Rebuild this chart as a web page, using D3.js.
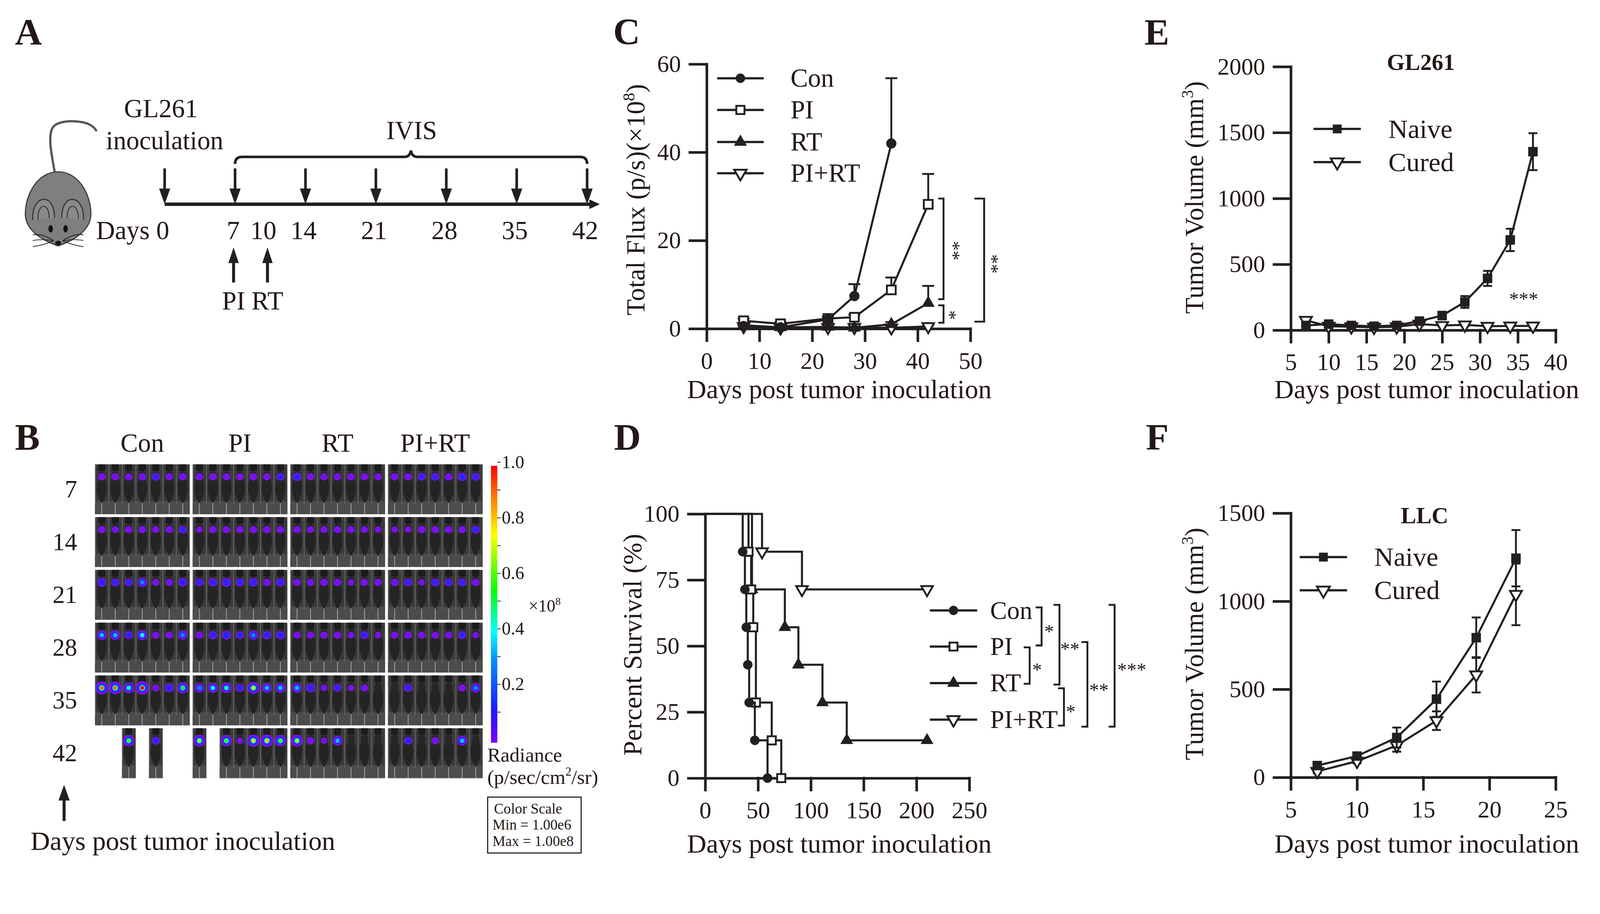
<!DOCTYPE html>
<html>
<head>
<meta charset="utf-8">
<script src="https://cdnjs.cloudflare.com/ajax/libs/d3/7.8.5/d3.min.js"></script>
<style>
html, body { margin: 0; padding: 0; background: #fff; overflow: hidden; }
svg { display: block; width: 100vw; height: 100vh; }
text { font-family: "Liberation Serif", "Times New Roman", serif; fill: #231815; }
</style>
</head>
<body>
<svg id="fig" viewBox="0 0 4295 2339" preserveAspectRatio="xMinYMin meet"></svg>
<script>
// ---------- data ----------
// A: timeline
var timelineLabels = [0, 7, 10, 14, 21, 28, 35, 42];
var ivisDays = [0, 7, 14, 21, 28, 35, 42];
var treatDays = [7, 10];
var treatNames = ["PI", "RT"];

// B: IVIS images (relative signal per mouse, null = no mouse)
var groups = ["Con", "PI", "RT", "PI+RT"];
var imageDays = [7, 14, 21, 28, 35, 42];
var conSignal = [
  [0.12, 0.10, 0.10, 0.12, 0.15, 0.10, 0.12],
  [0.10, 0.08, 0.10, 0.10, 0.08, 0.10, 0.14],
  [0.25, 0.15, 0.15, 0.30, 0.08, 0.10, 0.20],
  [0.35, 0.35, 0.15, 0.40, 0.10, 0.10, 0.30],
  [0.90, 0.90, 0.45, 1.00, 0.10, 0.25, 0.55],
  [null, null, 0.60, null, 0.15, null, null]
];
var piSignal = [
  [0.12, 0.10, 0.10, 0.10, 0.12, 0.10, 0.15],
  [0.05, 0.10, 0.10, 0.10, 0.10, 0.10, 0.10],
  [0.15, 0.20, 0.25, 0.20, 0.20, 0.12, 0.20],
  [0.12, 0.20, 0.25, 0.15, 0.30, 0.20, 0.20],
  [0.30, 0.40, 0.45, 0.15, 0.70, 0.35, 0.35],
  [0.70, null, 0.60, 0.05, 0.80, 0.80, 0.60]
];
var rtSignal = [
  [0.20, 0.10, 0.10, 0.10, 0.12, 0.10, 0.10],
  [0.10, 0.08, 0.08, 0.10, 0.10, 0.08, 0.05],
  [0.10, 0.10, 0.12, 0.12, 0.05, 0.10, 0.10],
  [0.10, 0.10, 0.10, 0.12, 0.05, 0.15, 0.05],
  [0.35, 0.25, 0.05, 0.15, 0.05, 0.10, 0.00],
  [0.70, 0.12, 0.05, 0.35, 0.00, 0.00, 0.00]
];
var pirtSignal = [
  [0.12, 0.12, 0.15, 0.15, 0.12, 0.20, 0.15],
  [0.05, 0.05, 0.12, 0.10, 0.10, 0.10, 0.15],
  [0.12, 0.15, 0.05, 0.15, 0.15, 0.15, 0.12],
  [0.10, 0.12, 0.10, 0.10, 0.10, 0.15, 0.05],
  [0.00, 0.15, 0.00, 0.00, 0.00, 0.10, 0.30],
  [0.00, 0.15, 0.00, 0.10, 0.00, 0.35, 0.00]
];
var colorbarLabels = [0.2, 0.4, 0.6, 0.8, 1.0];
var colorbarMinor = [0.1, 0.2, 0.3, 0.4, 0.5, 0.6, 0.7, 0.8, 0.9, 1.0];
var colorStops = [0, 0.12, 0.3, 0.4, 0.55, 0.75, 0.88, 1];
var colorValues = ["#7a00ff", "#1a1aff", "#0090ff", "#00ffff", "#00ff00", "#ffff00", "#ff8000", "#ff0000"];

// C: total flux (x10^8 p/s)
var fluxDays = [7, 14, 23, 28, 35, 42];
var fluxCon = [0.6, 0.3, 2.1, 7.4, 42.0, null];
var fluxConErr = [0.4, 0.3, 0.5, 2.7, 14.8, null];
var fluxPI = [1.8, 1.1, 2.3, 2.6, 8.8, 28.2];
var fluxPIErr = [0.5, 0.4, 0.5, 0.6, 2.8, 6.9];
var fluxRT = [0.8, 0.3, 0.4, 0.2, 1.0, 5.8];
var fluxRTErr = [0.3, 0.2, 0.2, 0.2, 0.5, 3.9];
var fluxPIRT = [0.5, 0.2, 0.3, 0.3, 0.2, 0.5];
var fluxPIRTErr = [0.2, 0.1, 0.1, 0.1, 0.1, 0.3];
var fluxXTicks = [0, 10, 20, 30, 40, 50];
var fluxYTicks = [0, 20, 40, 60];

// D: survival (Kaplan-Meier steps)
var survConT = [0, 35.5, 37.6, 38.9, 40.3, 41.6, 47, 59];
var survConS = [100, 85.7, 71.4, 57.1, 42.9, 28.6, 14.3, 0];
var survPIT = [0, 41, 43.5, 45.5, 48, 63, 72];
var survPIS = [100, 85.7, 71.4, 57.1, 28.6, 14.3, 0];
var survRTT = [0, 44.3, 75.4, 88.2, 111, 134, 210];
var survRTS = [100, 71.4, 57.1, 42.9, 28.6, 14.3, 14.3];
var survPIRTT = [0, 53.8, 91.6, 210];
var survPIRTS = [100, 85.7, 71.4, 71.4];
var survXTicks = [0, 50, 100, 150, 200, 250];
var survYTicks = [0, 25, 50, 75, 100];

// E: GL261 rechallenge tumour volume (mm^3)
var glDays = [7, 10, 13, 16, 19, 22, 25, 28, 31, 34, 37];
var glNaive = [36, 46, 36, 30, 36, 69, 111, 214, 393, 685, 1355];
var glNaiveErr = [10, 10, 8, 8, 8, 12, 20, 45, 57, 85, 140];
var glCured = [75, 30, 26, 22, 26, 46, 36, 40, 30, 32, 32];
var glCuredErr = [15, 8, 6, 6, 6, 10, 8, 8, 6, 6, 6];
var glXTicks = [5, 10, 15, 20, 25, 30, 35, 40];
var glYTicks = [0, 500, 1000, 1500, 2000];

// F: LLC challenge tumour volume (mm^3)
var llcDays = [7, 10, 13, 16, 19, 22];
var llcNaive = [67, 121, 226, 444, 793, 1244];
var llcNaiveErr = [12, 15, 57, 100, 115, 160];
var llcCured = [34, 92, 181, 322, 582, 1039];
var llcCuredErr = [10, 12, 35, 53, 100, 175];
var llcXTicks = [5, 10, 15, 20, 25];
var llcYTicks = [0, 500, 1000, 1500];

// ---------- helpers ----------
var INK = "#231f20";
var svg = d3.select("#fig");
svg.append("rect").attr("width", 4295).attr("height", 2339).attr("fill", "#fff");

function txt(g, x, y, s, fs, anchor, weight) {
  return g.append("text").attr("x", x).attr("y", y)
    .attr("font-size", fs).attr("text-anchor", anchor || "start")
    .attr("font-weight", weight || "normal").text(s);
}

function supLabel(g, x, y, main, sup, tail, fs, rotate) {
  var t = g.append("text").attr("font-size", fs).attr("text-anchor", "middle")
    .attr("transform", "translate(" + x + "," + y + ")" + (rotate ? " rotate(-90)" : ""))
    .attr("dy", "0.35em");
  t.append("tspan").text(main);
  t.append("tspan").attr("font-size", fs * 0.62).attr("dy", -fs * 0.38).text(sup);
  t.append("tspan").attr("dy", fs * 0.38).text(tail);
  return t;
}

function symbolPath(type, size) {
  var s = type === "circle" ? d3.symbolCircle : (type.indexOf("square") === 0 ? d3.symbolSquare : d3.symbolTriangle);
  return d3.symbol().type(s).size(size)();
}

function marker(g, type, x, y, size) {
  var open = type === "square" || type === "triDown";
  g.append("path").attr("d", symbolPath(type, size))
    .attr("transform", "translate(" + x + "," + y + ")" + (type === "triDown" ? " rotate(180)" : ""))
    .attr("fill", open ? "#fff" : INK).attr("stroke", INK).attr("stroke-width", open ? 5 : 1);
}

function axes(g, xs, ys, xTicks, yTicks) {
  var ya = g.append("g").attr("transform", "translate(" + xs.range()[0] + ",0)")
    .call(d3.axisLeft(ys).tickValues(yTicks).tickFormat(function (d) { return d; })
      .tickSize(45).tickSizeOuter(0).tickPadding(24));
  var xa = g.append("g").attr("transform", "translate(0," + ys.range()[0] + ")")
    .call(d3.axisBottom(xs).tickValues(xTicks).tickFormat(function (d) { return d; })
      .tickSize(32).tickSizeOuter(0).tickPadding(30));
  [ya, xa].forEach(function (a) {
    a.attr("font-size", 64).style("color", INK);
    a.selectAll("path, line").attr("stroke-width", 7).attr("stroke-linecap", "square");
  });
}

function series(g, xs, ys, days, vals, errs, type, size, both, cap) {
  var pts = days.map(function (d, i) { return [d, vals[i], errs[i]]; })
    .filter(function (p) { return p[1] !== null; });
  g.selectAll(null).data(pts).enter().append("path")
    .attr("d", function (p) {
      var x = xs(p[0]), yt = ys(p[1] + p[2]), yb = both ? ys(Math.max(0, p[1] - p[2])) : ys(p[1]);
      var d = "M" + x + "," + yb + "V" + yt + "M" + (x - cap) + "," + yt + "H" + (x + cap);
      if (both) d += "M" + (x - cap) + "," + yb + "H" + (x + cap);
      return d;
    })
    .attr("stroke", INK).attr("stroke-width", 5).attr("fill", "none");
  g.append("path").datum(pts)
    .attr("d", d3.line().x(function (p) { return xs(p[0]); }).y(function (p) { return ys(p[1]); }))
    .attr("fill", "none").attr("stroke", INK).attr("stroke-width", 5.5);
  pts.forEach(function (p) { marker(g, type, xs(p[0]), ys(p[1]), size); });
}

function legend(g, items, x1, x2, tx, rows, fs, size) {
  items.forEach(function (it, i) {
    g.append("line").attr("x1", x1).attr("x2", x2).attr("y1", rows[i]).attr("y2", rows[i])
      .attr("stroke", INK).attr("stroke-width", 6);
    marker(g, it.type, (x1 + x2) / 2, rows[i], size);
    txt(g, tx, rows[i] + fs * 0.33, it.name, fs);
  });
}

function bracket(g, x, y1, y2, serif) {
  g.append("path").attr("d", "M" + (x - serif) + "," + y1 + "H" + x + "V" + y2 + "H" + (x - serif))
    .attr("fill", "none").attr("stroke", INK).attr("stroke-width", 5);
}

function stars(g, x, y, s, rot) {
  return g.append("text").attr("font-size", 52).attr("text-anchor", "middle")
    .attr("transform", "translate(" + x + "," + y + ")" + (rot ? " rotate(90)" : ""))
    .attr("y", 26).text(s);
}

// ---------- panel letters ----------
var letters = [["A", 40, 120], ["C", 1646, 119], ["E", 3072, 121], ["B", 40, 1207], ["D", 1648, 1207], ["F", 3076, 1207]];
letters.forEach(function (l) { txt(svg, l[1], l[2], l[0], 100, "start", "bold"); });

// ---------- A: schedule ----------
var gA = svg.append("g");
var mouse = gA.append("g");
mouse.append("path").attr("d", "M147,463 C140,420 128,372 140,345 C150,325 190,322 222,328 C240,332 252,340 258,350")
  .attr("fill", "none").attr("stroke", "#555").attr("stroke-width", 6).attr("stroke-linecap", "round");
mouse.append("path").attr("d", "M156,461 C210,461 244,520 244,575 C244,618 198,645 156,660 C114,645 68,618 68,575 C68,520 102,461 156,461 Z")
  .attr("fill", "#7f7f7f").attr("stroke", "#3a3a3a").attr("stroke-width", 3);
[[118, 1], [194, -1]].forEach(function (e) {
  mouse.append("path").attr("d", "M" + (e[0] - 30 * e[1]) + ",590 C" + (e[0] - 34 * e[1]) + ",520 " + (e[0] + 30 * e[1]) + ",515 " + (e[0] + 28 * e[1]) + ",585")
    .attr("fill", "#8a8a8a").attr("stroke", "#333").attr("stroke-width", 3);
  mouse.append("path").attr("d", "M" + (e[0] - 16 * e[1]) + ",588 C" + (e[0] - 18 * e[1]) + ",545 " + (e[0] + 14 * e[1]) + ",540 " + (e[0] + 14 * e[1]) + ",585")
    .attr("fill", "none").attr("stroke", "#333").attr("stroke-width", 2.5);
});
mouse.append("ellipse").attr("cx", 136).attr("cy", 614).attr("rx", 6).attr("ry", 10).attr("fill", "#111");
mouse.append("ellipse").attr("cx", 176).attr("cy", 614).attr("rx", 6).attr("ry", 10).attr("fill", "#111");
mouse.append("ellipse").attr("cx", 156).attr("cy", 652).attr("rx", 8).attr("ry", 6).attr("fill", "#111");
[[-1, 630], [-1, 645], [-1, 662], [1, 630], [1, 645], [1, 662]].forEach(function (w) {
  mouse.append("path").attr("d", "M" + (156 + 12 * w[0]) + ",646 Q" + (156 + 40 * w[0]) + "," + (w[1] - 4) + " " + (156 + 68 * w[0]) + "," + w[1])
    .attr("fill", "none").attr("stroke", "#222").attr("stroke-width", 2);
});

var tl = d3.scaleLinear().domain([0, 42]).range([442, 1576]);
var lineY = 548;
gA.append("line").attr("x1", tl(0)).attr("x2", 1588).attr("y1", lineY).attr("y2", lineY)
  .attr("stroke", INK).attr("stroke-width", 9);
gA.append("path").attr("d", "M1582," + (lineY - 13) + "L1610," + lineY + "L1582," + (lineY + 13) + "Z").attr("fill", INK);
ivisDays.forEach(function (d) {
  var x = tl(d);
  gA.append("line").attr("x1", x).attr("x2", x).attr("y1", 452).attr("y2", 512)
    .attr("stroke", INK).attr("stroke-width", 7);
  gA.append("path").attr("d", "M" + (x - 15) + ",506L" + x + ",548L" + (x + 15) + ",506Z").attr("fill", INK);
});
treatDays.forEach(function (d, i) {
  var x = tl(d) - (i === 0 ? 4 : -6);
  gA.append("line").attr("x1", x).attr("x2", x).attr("y1", 700).attr("y2", 758)
    .attr("stroke", INK).attr("stroke-width", 8);
  gA.append("path").attr("d", "M" + (x - 14) + ",706L" + x + ",664L" + (x + 14) + ",706Z").attr("fill", INK);
  txt(gA, x, 830, treatNames[i], 70, "middle");
});
txt(gA, 258, 642, "Days", 70);
timelineLabels.forEach(function (d) { txt(gA, tl(d) - 5, 642, d, 70, "middle"); });
gA.append("path")
  .attr("d", "M" + tl(7) + ",440 Q" + tl(7) + ",421 " + (tl(7) + 19) + ",421 L1086,421 Q1100,421 1103,404 Q1106,421 1120,421 L" + (tl(42) - 19) + ",421 Q" + tl(42) + ",421 " + tl(42) + ",440")
  .attr("fill", "none").attr("stroke", INK).attr("stroke-width", 7);
txt(gA, 1105, 373, "IVIS", 70, "middle");
txt(gA, 432, 315, "GL261", 70, "middle");
txt(gA, 442, 401, "inoculation", 70, "middle");

// ---------- B: IVIS image grid ----------
var gB = svg.append("g");
var signals = [conSignal, piSignal, rtSignal, pirtSignal];
var bCol = d3.scaleBand().domain(groups).range([255, 1295]).paddingInner(0.032);
var bRow = d3.scaleBand().domain(imageDays).range([1246, 2088]).paddingInner(0.055);
var spotColor = d3.scaleLinear().domain(colorStops).range(colorValues);

groups.forEach(function (grp, gi) {
  txt(gB, bCol(grp) + bCol.bandwidth() / 2, 1212, grp, 70, "middle");
  imageDays.forEach(function (day, di) {
    var x0 = bCol(grp), y0 = bRow(day), w = bCol.bandwidth(), h = bRow.bandwidth(), sw = w / 7;
    signals[gi][di].forEach(function (v, i) {
      if (v === null) return;
      var sx = x0 + i * sw, cx = sx + sw / 2, cy = y0 + h * 0.25;
      gB.append("rect").attr("x", sx).attr("y", y0).attr("width", sw + 0.6).attr("height", h).attr("fill", "#3b3b3b");
      gB.append("rect").attr("x", sx).attr("y", y0 + h * 0.74).attr("width", sw + 0.6).attr("height", h * 0.26).attr("fill", "#4c4c4c");
      gB.append("rect").attr("x", cx - sw * 0.26).attr("y", y0).attr("width", sw * 0.52).attr("height", h * 0.13).attr("fill", "#1c1c1c");
      gB.append("line").attr("x1", sx + 1).attr("x2", sx + 1).attr("y1", y0).attr("y2", y0 + h * 0.8)
        .attr("stroke", "#6a6a6a").attr("stroke-width", 2);
      gB.append("line").attr("x1", cx).attr("x2", cx).attr("y1", y0 + h * 0.74).attr("y2", y0 + h)
        .attr("stroke", "#a8a8a8").attr("stroke-width", 2);
      gB.append("path")
        .attr("d", "M" + (cx - sw * 0.3) + "," + (y0 + h * 0.3) +
          " C" + (cx - sw * 0.46) + "," + (y0 + h * 0.5) + " " + (cx - sw * 0.36) + "," + (y0 + h * 0.66) + " " + cx + "," + (y0 + h * 0.78) +
          " C" + (cx + sw * 0.36) + "," + (y0 + h * 0.66) + " " + (cx + sw * 0.46) + "," + (y0 + h * 0.5) + " " + (cx + sw * 0.3) + "," + (y0 + h * 0.3) + " Z")
        .attr("fill", "#242424");
      gB.append("ellipse").attr("cx", cx).attr("cy", y0 + h * 0.24).attr("rx", sw * 0.28).attr("ry", h * 0.11).attr("fill", "#262626");
      if (v > 0) {
        var r0 = 6 + 12 * Math.sqrt(v);
        gB.append("circle").attr("cx", cx).attr("cy", cy).attr("r", r0).attr("fill", "#7a10f0");
        if (v > 0.12) gB.append("circle").attr("cx", cx).attr("cy", cy).attr("r", r0 * 0.68).attr("fill", "#2424ff");
        if (v > 0.25) gB.append("circle").attr("cx", cx).attr("cy", cy).attr("r", r0 * 0.45).attr("fill", spotColor(Math.min(v, 0.45)));
        if (v > 0.45) gB.append("circle").attr("cx", cx).attr("cy", cy).attr("r", r0 * 0.3).attr("fill", spotColor(v));
      }
    });
  });
});
imageDays.forEach(function (day) {
  txt(gB, 207, bRow(day) + bRow.bandwidth() / 2 + 22, day, 66, "end");
});

// colour bar
var grad = svg.append("defs").append("linearGradient").attr("id", "cbGrad")
  .attr("x1", 0).attr("y1", 1).attr("x2", 0).attr("y2", 0);
colorStops.forEach(function (s, i) {
  grad.append("stop").attr("offset", s).attr("stop-color", colorValues[i]);
});
var cb = d3.scaleLinear().domain([0, 1]).range([1985, 1240]);
gB.append("rect").attr("x", 1318).attr("y", 1250).attr("width", 17).attr("height", 743).attr("fill", "url(#cbGrad)");
var cbAxis = gB.append("g").attr("transform", "translate(1335,0)")
  .call(d3.axisRight(cb).tickValues(colorbarMinor).tickSize(9).tickPadding(3)
    .tickFormat(function (d) { return colorbarLabels.indexOf(d) >= 0 ? d.toFixed(1) : ""; }));
cbAxis.attr("font-size", 48).style("color", INK);
cbAxis.select(".domain").remove();
cbAxis.selectAll("line").attr("stroke-width", 2);
supLabel(gB, 1462, 1625, "×10", "8", "", 46, false);
txt(gB, 1308, 2044, "Radiance", 54);
var rad = gB.append("text").attr("x", 1308).attr("y", 2103).attr("font-size", 54);
rad.append("tspan").text("(p/sec/cm");
rad.append("tspan").attr("font-size", 32).attr("dy", -22).text("2");
rad.append("tspan").attr("dy", 22).text("/sr)");
gB.append("rect").attr("x", 1309).attr("y", 2139).attr("width", 251).attr("height", 150)
  .attr("fill", "none").attr("stroke", INK).attr("stroke-width", 3);
txt(gB, 1326, 2183, "Color Scale", 39);
txt(gB, 1322, 2226, "Min = 1.00e6", 39);
txt(gB, 1322, 2270, "Max = 1.00e8", 39);
gB.append("line").attr("x1", 172).attr("x2", 172).attr("y1", 2140).attr("y2", 2203).attr("stroke", INK).attr("stroke-width", 8);
gB.append("path").attr("d", "M157,2148L172,2106L187,2148Z").attr("fill", INK);
txt(gB, 82, 2281, "Days post tumor inoculation", 72);

// ---------- C: total flux ----------
var gC = svg.append("g");
var cX = d3.scaleLinear().domain([0, 50]).range([1897, 2605]);
var cY = d3.scaleLinear().domain([0, 60]).range([882, 172]);
axes(gC, cX, cY, fluxXTicks, fluxYTicks);
series(gC, cX, cY, fluxDays, fluxPIRT, fluxPIRTErr, "triDown", 420, false, 16);
series(gC, cX, cY, fluxDays, fluxRT, fluxRTErr, "triUp", 480, false, 16);
series(gC, cX, cY, fluxDays, fluxPI, fluxPIErr, "square", 560, false, 16);
series(gC, cX, cY, fluxDays, fluxCon, fluxConErr, "circle", 560, false, 16);
legend(gC, [{ name: "Con", type: "circle" }, { name: "PI", type: "square" }, { name: "RT", type: "triUp" }, { name: "PI+RT", type: "triDown" }],
  1925, 2050, 2122, [210, 295, 381, 465], 70, 480);
bracket(gC, cX(44.9), cY(29.5), cY(6.7), 14);
bracket(gC, cX(44.9), cY(5.3), cY(1.35), 14);
bracket(gC, cX(52.6), cY(29.5), cY(1.6), 26);
stars(gC, cX(47.4), cY(17.7), "**", true);
stars(gC, cX(46.7), cY(3.1), "*", true);
stars(gC, cX(54.7), cY(14.7), "**", true);
supLabel(gC, 1705, 536, "Total Flux (p/s)(×10", "8", ")", 71, true);
txt(gC, 2253, 1068, "Days post tumor inoculation", 72, "middle");

// ---------- D: survival ----------
var gD = svg.append("g");
var dX = d3.scaleLinear().domain([0, 250]).range([1893, 2602]);
var dY = d3.scaleLinear().domain([0, 100]).range([2088, 1379]);
axes(gD, dX, dY, survXTicks, survYTicks);
var km = [
  { t: survRTT, s: survRTS, type: "triUp", size: 460 },
  { t: survPIRTT, s: survPIRTS, type: "triDown", size: 420 },
  { t: survPIT, s: survPIS, type: "square", size: 480 },
  { t: survConT, s: survConS, type: "circle", size: 480 }
];
km.forEach(function (k) {
  var pts = k.t.map(function (t, i) { return [t, k.s[i]]; });
  gD.append("path").datum(pts)
    .attr("d", d3.line().curve(d3.curveStepAfter).x(function (p) { return dX(p[0]); }).y(function (p) { return dY(p[1]); }))
    .attr("fill", "none").attr("stroke", INK).attr("stroke-width", 5.5);
  pts.slice(1).forEach(function (p) { marker(gD, k.type, dX(p[0]), dY(p[1]), k.size); });
});
var dRows = [1638, 1735, 1833, 1931];
legend(gD, [{ name: "Con", type: "circle" }, { name: "PI", type: "square" }, { name: "RT", type: "triUp" }, { name: "PI+RT", type: "triDown" }],
  2496, 2623, 2658, dRows, 68, 460);
bracket(gD, 2796, 1630, 1732, 16);
bracket(gD, 2764, 1737, 1835, 16);
bracket(gD, 2844, 1623, 1837, 16);
bracket(gD, 2856, 1847, 1947, 16);
bracket(gD, 2919, 1723, 1950, 16);
bracket(gD, 2992, 1623, 1950, 16);
stars(gD, 2816, 1685, "*");
stars(gD, 2784, 1788, "*");
stars(gD, 2872, 1732, "**");
stars(gD, 2874, 1900, "*");
stars(gD, 2950, 1843, "**");
stars(gD, 3038, 1788, "***");
gD.append("text").attr("font-size", 71).attr("text-anchor", "middle")
  .attr("transform", "translate(1697,1730) rotate(-90)").attr("dy", "0.35em").text("Percent Survival (%)");
txt(gD, 2253, 2288, "Days post tumor inoculation", 72, "middle");

// ---------- E: GL261 ----------
var gE = svg.append("g");
var eX = d3.scaleLinear().domain([5, 40]).range([3465, 4176]);
var eY = d3.scaleLinear().domain([0, 2000]).range([886, 179]);
axes(gE, eX, eY, glXTicks, glYTicks);
series(gE, eX, eY, glDays, glCured, glCuredErr, "triDown", 440, true, 12);
series(gE, eX, eY, glDays, glNaive, glNaiveErr, "squareFill", 600, true, 12);
legend(gE, [{ name: "Naive", type: "squareFill" }, { name: "Cured", type: "triDown" }],
  3526, 3653, 3727, [346, 435], 72, 520);
txt(gE, 3814, 188, "GL261", 62, "middle", "bold");
stars(gE, 4090, 793, "***");
supLabel(gE, 3205, 530, "Tumor Volume (mm", "3", ")", 71, true);
txt(gE, 3830, 1068, "Days post tumor inoculation", 72, "middle");

// ---------- F: LLC ----------
var gF = svg.append("g");
var fX = d3.scaleLinear().domain([5, 25]).range([3465, 4176]);
var fY = d3.scaleLinear().domain([0, 1500]).range([2086, 1377]);
axes(gF, fX, fY, llcXTicks, llcYTicks);
series(gF, fX, fY, llcDays, llcCured, llcCuredErr, "triDown", 440, true, 12);
series(gF, fX, fY, llcDays, llcNaive, llcNaiveErr, "squareFill", 600, true, 12);
legend(gF, [{ name: "Naive", type: "squareFill" }, { name: "Cured", type: "triDown" }],
  3489, 3616, 3689, [1495, 1584], 72, 520);
txt(gF, 3824, 1404, "LLC", 62, "middle", "bold");
supLabel(gF, 3205, 1728, "Tumor Volume (mm", "3", ")", 71, true);
txt(gF, 3830, 2288, "Days post tumor inoculation", 72, "middle");
</script>
</body>
</html>
